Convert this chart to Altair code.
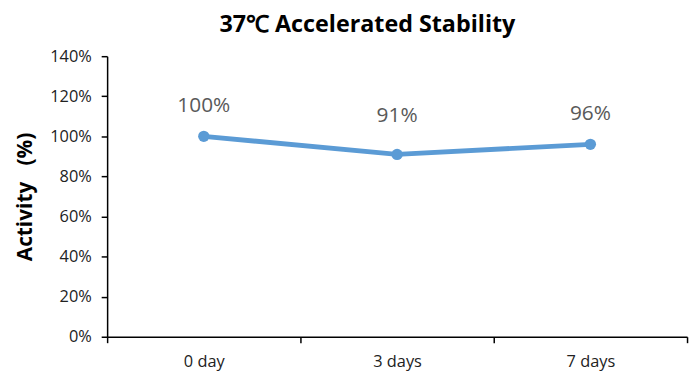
import altair as alt
import pandas as pd

days = ["0 day", "3 days", "7 days"]
activity = [1.00, 0.91, 0.96]
labels = ["100%", "91%", "96%"]
label_dy = [-31, -39, -31]

df = pd.DataFrame({"day": days, "activity": activity, "label": labels})

COLOR = "#5B9BD5"
FONT = "Open Sans"

x = alt.X("day:N", sort=days, title=None,
          scale=alt.Scale(paddingInner=0, paddingOuter=0),
          axis=alt.Axis(tickBand="extent", labelAngle=0, labelFontSize=16.5,
                        labelFont=FONT, labelColor="#222", labelPadding=11,
                        domainColor="#000", tickColor="#000", tickSize=6,
                        domainWidth=1.5, tickWidth=1.5, grid=False))
y = alt.Y("activity:Q", title="Activity\u00a0\u00a0\u00a0(%)",
          scale=alt.Scale(domain=[0, 1.4], nice=False),
          axis=alt.Axis(format=".0%", values=[0, 0.2, 0.4, 0.6, 0.8, 1.0, 1.2, 1.4],
                        labelFontSize=16.5, labelFont=FONT, labelColor="#222",
                        labelPadding=10, domainColor="#000", tickColor="#000",
                        tickSize=6, domainWidth=1.5, tickWidth=1.5, grid=False,
                        titleFont=FONT, titleFontSize=21, titleFontWeight="bold",
                        titleColor="#000", titlePadding=14))

base = alt.Chart(df)
line = base.mark_line(color=COLOR, strokeWidth=5).encode(x=x, y=y)
pts = base.mark_point(filled=True, color=COLOR, size=130, opacity=1).encode(x=x, y=y)

texts = []
for d, dy in zip(days, label_dy):
    texts.append(
        base.transform_filter(alt.datum.day == d)
        .mark_text(dy=dy, fontSize=21, font=FONT, color="#595959")
        .encode(x=x, y=y, text="label:N")
    )

chart = alt.layer(line, pts, *texts).properties(
    width=585, height=283,
    title=alt.TitleParams("37℃ Accelerated Stability", font=FONT, fontSize=23.5,
                          fontWeight="bold", color="#000", dx=-30, offset=12),
    autosize=alt.AutoSizeParams(type="none"),
    padding={"left": 100, "top": 47, "right": 5, "bottom": 39},
).configure_view(stroke=None)

chart.save("out.html", embed_options={"renderer": "svg", "actions": False})
